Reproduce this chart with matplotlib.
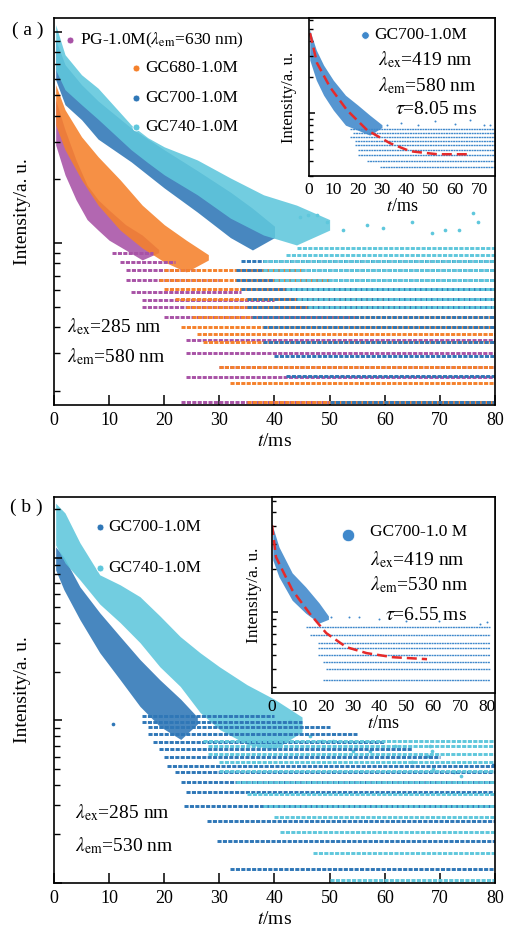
import matplotlib
matplotlib.use('Agg')
import matplotlib.pyplot as plt
from matplotlib.ticker import LogLocator, NullFormatter, MultipleLocator

plt.rcParams['font.family'] = ['Liberation Serif', 'DejaVu Serif']
plt.rcParams['mathtext.fontset'] = 'stix'
plt.rcParams['xtick.direction'] = 'in'
plt.rcParams['ytick.direction'] = 'in'

PURPLE = '#a852a6'
ORANGE = '#f5812b'
BLUE = '#2f77b7'
CYAN = '#5fc7dc'
LIGHTBLUE = '#3f88cb'
RED = '#e62a2a'

# ---------------- panel (a), main plot ----------------
# dense early-time cloud: time, lower and upper edge of the points
pg_t = [0.3, 2, 4, 6, 8, 10, 13, 16, 19]
pg_hi = [47.6, 34.3, 24.7, 18.8, 16.0, 14.3, 12.2, 10.9, 9.3]
pg_lo = [29.1, 21.0, 16.0, 12.9, 11.5, 10.3, 9.26, 8.31, 9.0]
# quantised rows at long times: level, first and last time
pg_rows = [8.97, 8.13, 7.45, 6.68, 5.86, 5.37, 4.97, 4.46, 3.47, 3.01, 2.58, 2.32, 1.76]
pg_row_start = [10.5, 12, 13, 13, 14, 16, 16, 20, 24, 24, 30, 24, 23]
pg_row_end = [18, 22, 26, 30, 34, 40, 48, 55, 80, 80, 80, 80, 80]

gc680_t = [0.3, 2, 5, 8, 12, 16, 20, 24, 28]
gc680_hi = [56.1, 42.7, 31.8, 25.6, 19.9, 15.1, 12.2, 10.3, 8.8]
gc680_lo = [36.2, 27.6, 19.9, 15.1, 11.5, 9.47, 8.13, 7.29, 8.3]
gc680_rows = [7.45, 6.68, 6.05, 5.43, 4.97, 4.46, 4.00, 3.70, 3.40, 2.58, 2.17, 1.76]
gc680_row_start = [20, 19, 20, 22, 24, 25, 23, 26, 27, 30, 32, 35]
gc680_row_end = [45, 50, 55, 60, 65, 80, 80, 80, 80, 80, 80, 80]

gc700_t = [0.3, 2, 5, 8, 14, 20, 26, 32, 36, 40]
gc700_hi = [91.6, 69.8, 56.1, 47.0, 35.0, 27.6, 22.0, 17.4, 14.6, 12.0]
gc700_lo = [59.2, 45.1, 38.3, 31.0, 24.2, 18.2, 14.0, 10.6, 9.26, 10.6]
gc700_rows = [8.22, 7.45, 6.68, 6.05, 5.43, 4.97, 4.46, 4.00, 3.40, 2.91, 2.34, 1.76]
gc700_row_start = [34, 33, 33, 34, 35, 35, 36, 38, 38, 40, 42, 50]
gc700_row_end = [80] * 12

gc740_t = [0.3, 2, 5, 8, 14, 17, 20, 26, 32, 38, 44, 50]
gc740_hi = [107.9, 77.8, 62.5, 54.0, 36.2, 31.5, 28.5, 24.7, 20.3, 16.9, 15.1, 12.9]
gc740_lo = [66.0, 53.1, 45.1, 38.5, 27.6, 24.0, 21.0, 16.9, 13.1, 10.9, 9.78, 11.5]
gc740_rows = [9.47, 8.77, 8.22, 7.45, 6.68, 6.05, 5.43, 4.97]
gc740_row_start = [44, 42, 38, 38, 40, 42, 44, 46]
gc740_row_end = [80] * 8
gc740_pts_t = [44.6, 46, 47.7, 49.5, 52.4, 56.8, 59.7, 65, 68.6, 71, 73.5, 76, 77]
gc740_pts_y = [13.3, 13.6, 13.6, 12.6, 11.5, 12.2, 11.8, 12.6, 11.2, 11.5, 11.5, 13.9, 12.6]

# ---------------- panel (a), inset ----------------
ia_t = [0.3, 3, 6, 10, 15, 20, 25, 30]
ia_hi = [49.2, 33.5, 25.1, 18.8, 14.1, 11.7, 9.62, 8.0]
ia_lo = [27.7, 18.8, 14.1, 10.6, 7.94, 7.22, 6.56, 7.6]
ia_rows = [7.36, 6.81, 6.31, 5.84, 5.41, 4.92, 4.47, 3.98, 3.55]
ia_row_start = [17, 18, 17, 19, 19, 20, 20, 24, 29]
ia_pts_t = [32, 38, 45, 52, 60, 66, 72, 74.5]
ia_pts_y = [8.0, 8.3, 7.9, 8.6, 8.1, 8.8, 8.0, 7.9]
ia_fit_t = [0.4, 3.3, 8.6, 15.6, 23.9, 33.3, 41.6, 52.7, 66.3]
ia_fit_y = [46.4, 26.1, 16.5, 10.6, 7.22, 5.62, 4.82, 4.55, 4.55]

# ---------------- panel (b), main plot ----------------
b700_t = [0.3, 1.8, 4.7, 8.3, 12, 15.6, 19.2, 23, 26]
b700_hi = [117, 101, 66.4, 46.0, 32.8, 23.7, 17.8, 13.5, 10.5]
b700_lo = [84.3, 63.7, 41.7, 26.1, 17.8, 12.2, 9.19, 7.64, 9.5]
b700_rows = [10.7, 9.72, 9.06, 8.21, 7.33, 6.64, 5.93, 5.22, 4.80, 4.17, 3.62, 2.97, 2.40, 1.81, 1.22]
b700_row_start = [16, 16, 17, 17, 18, 19, 20, 20.5, 22, 23, 24, 23.5, 27.7, 29.6, 32]
b700_row_end = [40, 45, 50, 55, 60, 65, 70, 80, 80, 80, 80, 80, 80, 80, 80]
b700_pts_t = [10.7, 79.6]
b700_pts_y = [9.45, 5.30]

b740_t = [0.3, 2, 4.7, 8.3, 12, 15.6, 19.2, 22.9, 26.5, 30, 35, 40, 45]
b740_hi = [217, 189, 124, 78.7, 68.3, 57.7, 44.0, 32.8, 26.1, 21.4, 16.6, 13.5, 10.5]
b740_lo = [120, 93.1, 73.3, 52.0, 40.0, 30.1, 21.4, 16.2, 11.2, 8.81, 7.13, 6.64, 8.5]
b740_rows = [7.44, 6.92, 6.18, 5.52, 4.86, 4.17, 3.52, 2.97, 2.54, 2.06, 1.53, 1.04]
b740_row_start = [27, 28, 28, 30, 30, 33, 35, 38, 40, 41, 47, 50]
b740_row_end = [80] * 12
b740_pts_t = [42.8, 46.5, 48.6, 50.6, 54.3, 57.4, 61.9, 68.2, 68.6, 67.9, 65, 68.8, 72.5, 73.8]
b740_pts_y = [9.86, 7.97, 7.44, 7.44, 6.45, 6.45, 6.92, 6.92, 6.45, 6.01, 5.52, 5.00, 4.80, 4.53]

# ---------------- panel (b), inset ----------------
ib_t = [0.3, 2.6, 7.5, 12.5, 17.5, 21]
ib_hi = [39.3, 28.5, 18.8, 15.0, 11.6, 9.4]
ib_lo = [23.1, 17.6, 12.1, 9.84, 8.38, 8.9]
ib_rows = [7.85, 6.90, 6.07, 5.60, 5.00, 4.47, 3.99, 3.34]
ib_row_start = [12.7, 14, 17, 17, 17, 19, 20, 19]
ib_pts_t = [22, 28.8, 32.5, 40, 50, 62, 77.5, 80]
ib_pts_y = [9.2, 9.23, 9.23, 8.9, 8.6, 8.7, 8.24, 8.5]
ib_fit_t = [0, 1.5, 7.5, 13.9, 20.2, 27.7, 35.2, 44.9, 57.7]
ib_fit_y = [40.5, 24.2, 14.3, 9.84, 7.13, 5.69, 5.17, 4.84, 4.69]


def draw_decay(ax, t, lo, hi, rows, r0, r1, color, lw=2.1, pts=None, ms=7):
    ax.fill_between(t, lo, hi, color=color, lw=0, alpha=0.88)
    ax.hlines(rows, r0, r1, colors=color, lw=lw, linestyles=(0, (1.4, 0.45)))
    if pts is not None:
        ax.scatter(pts[0], pts[1], s=ms, color=color, lw=0)


def style_axes(ax, xmax, ylim, fs=13, major=7, minor=4.5):
    ax.set_yscale('log')
    ax.set_xlim(0, xmax)
    ax.set_ylim(*ylim)
    ax.xaxis.set_major_locator(MultipleLocator(10))
    ax.yaxis.set_major_locator(LogLocator(base=10))
    ax.yaxis.set_minor_locator(LogLocator(base=10, subs=range(2, 10)))
    ax.yaxis.set_major_formatter(NullFormatter())
    ax.yaxis.set_minor_formatter(NullFormatter())
    ax.tick_params(axis='x', length=major, width=1.1, labelsize=fs, pad=5)
    ax.tick_params(axis='y', which='major', length=major - 1, width=1.1)
    ax.tick_params(axis='y', which='minor', length=minor, width=1.0)
    for s in ax.spines.values():
        s.set_linewidth(1.2)


def add_text(ax, x, y, s, fs):
    ax.text(x, y, s, fontsize=fs, va='center', transform=ax.transAxes, zorder=10)


def add_marker(ax, x, y, c, ms):
    ax.plot([x], [y], 'o', ms=ms, color=c, mec='white', mew=0.6,
            transform=ax.transAxes, zorder=10)


fig = plt.figure(figsize=(5.07, 9.34), dpi=100)

# ----- (a) -----
ax1 = fig.add_axes([0.1065, 0.5664, 0.8698, 0.4143])
draw_decay(ax1, pg_t, pg_lo, pg_hi, pg_rows, pg_row_start, pg_row_end, PURPLE)
draw_decay(ax1, gc680_t, gc680_lo, gc680_hi, gc680_rows, gc680_row_start, gc680_row_end, ORANGE)
draw_decay(ax1, gc700_t, gc700_lo, gc700_hi, gc700_rows, gc700_row_start, gc700_row_end, BLUE)
draw_decay(ax1, gc740_t, gc740_lo, gc740_hi, gc740_rows, gc740_row_start, gc740_row_end, CYAN,
           pts=(gc740_pts_t, gc740_pts_y))
style_axes(ax1, 80, (1.71, 116))
ax1.set_xlabel(r'$t$/ms', fontsize=14, labelpad=3)
ax1.set_ylabel('Intensity/a. u.', fontsize=14, labelpad=13)

legend_a = [(0.036, 0.943, 0.060, PURPLE, r'PG-1.0M($\lambda_{\rm em}$=630 nm)'),
            (0.186, 0.871, 0.206, ORANGE, 'GC680-1.0M'),
            (0.186, 0.793, 0.206, BLUE, 'GC700-1.0M'),
            (0.186, 0.718, 0.206, CYAN, 'GC740-1.0M')]
for mx, my, tx, c, lab in legend_a:
    add_marker(ax1, mx, my, c, 5)
    add_text(ax1, tx, my, lab, 12.5)
add_text(ax1, 0.029, 0.202, r'$\lambda_{\rm ex}$=285 nm', 14)
add_text(ax1, 0.029, 0.124, r'$\lambda_{\rm em}$=580 nm', 14)

ins1 = fig.add_axes([0.6095, 0.8116, 0.3669, 0.1692])
ins1.set_facecolor('white')
draw_decay(ins1, ia_t, ia_lo, ia_hi, ia_rows, ia_row_start, [76.5] * 9, LIGHTBLUE, lw=1.0,
           pts=(ia_pts_t, ia_pts_y), ms=2)
ins1.plot(ia_fit_t, ia_fit_y, color=RED, lw=1.8, ls=(0, (4, 2)))
style_axes(ins1, 76.5, (3.0, 62), fs=12.5, major=5, minor=3)
ins1.tick_params(axis='x', length=0, pad=4)
ins1.set_xlabel(r'$t$/ms', fontsize=13, labelpad=0)
ins1.set_ylabel('Intensity/a. u.', fontsize=12, labelpad=5)
add_marker(ins1, 0.301, 0.892, LIGHTBLUE, 5.5)
add_text(ins1, 0.349, 0.892, 'GC700-1.0M', 12.5)
add_text(ins1, 0.371, 0.734, r'$\lambda_{\rm ex}$=419 nm', 14)
add_text(ins1, 0.371, 0.570, r'$\lambda_{\rm em}$=580 nm', 14)
add_text(ins1, 0.462, 0.418, r'$\tau$=8.05 ms', 14)

# ----- (b) -----
ax2 = fig.add_axes([0.1065, 0.0546, 0.8698, 0.4133])
draw_decay(ax2, b700_t, b700_lo, b700_hi, b700_rows, b700_row_start, b700_row_end, BLUE,
           pts=(b700_pts_t, b700_pts_y))
draw_decay(ax2, b740_t, b740_lo, b740_hi, b740_rows, b740_row_start, b740_row_end, CYAN,
           pts=(b740_pts_t, b740_pts_y))
style_axes(ax2, 80, (1.0, 237))
ax2.set_xlabel(r'$t$/ms', fontsize=14, labelpad=3)
ax2.set_ylabel('Intensity/a. u.', fontsize=14, labelpad=13)
for my, c, lab in [(0.922, BLUE, 'GC700-1.0M'), (0.816, CYAN, 'GC740-1.0M')]:
    add_marker(ax2, 0.104, my, c, 5)
    add_text(ax2, 0.122, my, lab, 12.5)
add_text(ax2, 0.048, 0.181, r'$\lambda_{\rm ex}$=285 nm', 14)
add_text(ax2, 0.048, 0.098, r'$\lambda_{\rm em}$=530 nm', 14)

ins2 = fig.add_axes([0.5365, 0.258, 0.4398, 0.2099])
ins2.set_facecolor('white')
draw_decay(ins2, ib_t, ib_lo, ib_hi, ib_rows, ib_row_start, [81] * 8, LIGHTBLUE, lw=1.0,
           pts=(ib_pts_t, ib_pts_y), ms=2)
ins2.plot(ib_fit_t, ib_fit_y, color=RED, lw=1.8, ls=(0, (4, 2)))
style_axes(ins2, 83, (2.72, 63.7), fs=12.5, major=5, minor=3)
ins2.tick_params(axis='x', length=0, pad=4)
ins2.set_xlabel(r'$t$/ms', fontsize=13, labelpad=0)
ins2.set_ylabel('Intensity/a. u.', fontsize=12.5, labelpad=4)
add_marker(ins2, 0.341, 0.806, LIGHTBLUE, 9)
add_text(ins2, 0.439, 0.821, 'GC700-1.0 M', 12.5)
add_text(ins2, 0.439, 0.679, r'$\lambda_{\rm ex}$=419 nm', 14)
add_text(ins2, 0.439, 0.551, r'$\lambda_{\rm em}$=530 nm', 14)
add_text(ins2, 0.507, 0.398, r'$\tau$=6.55 ms', 14)

fig.text(12 / 507, 1 - 30 / 934, '( a )', fontsize=14, va='center')
fig.text(10 / 507, 1 - 507 / 934, '( b )', fontsize=14, va='center')

fig.savefig('out.png', dpi=100)
